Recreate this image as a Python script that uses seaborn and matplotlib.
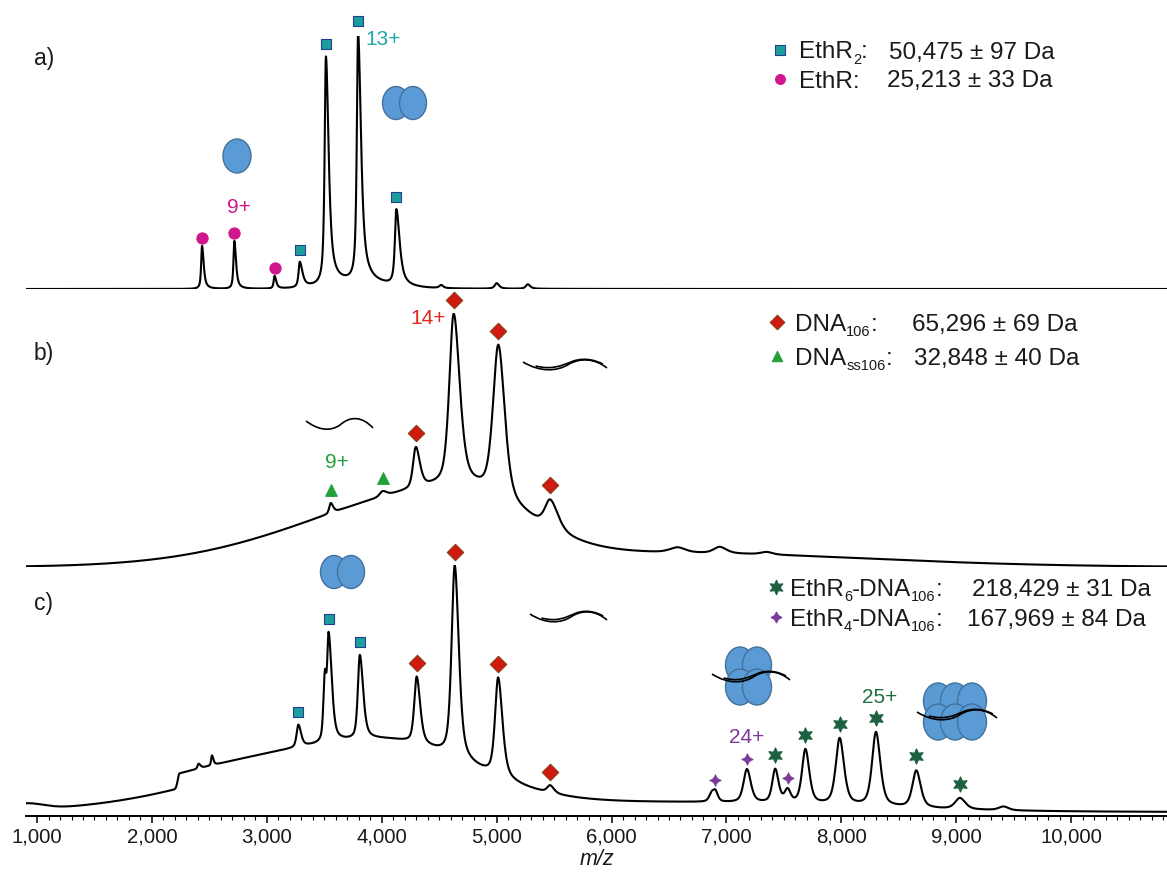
import numpy as np
import matplotlib
matplotlib.use("Agg")
import matplotlib.pyplot as plt
from matplotlib.patches import Ellipse, PathPatch
from matplotlib.path import Path
from matplotlib.ticker import FuncFormatter, MultipleLocator
import seaborn as sns

sns.set_theme(style="white")
plt.rcParams["font.family"] = ["Liberation Sans", "DejaVu Sans"]

# ---- peaks: centre m/z, height (% of panel max), left/right half widths
a_mz = [2436, 2717, 3067, 3286, 3514, 3794, 4127, 4518, 5000, 5271]
a_height = [17, 19, 5, 10, 90, 98, 30, 1.2, 2.2, 1.8]
a_wl = [9, 9, 9, 12, 13, 13, 15, 20, 20, 20]
a_wr = [17, 17, 17, 28, 28, 30, 34, 20, 25, 25]
# broad underlying humps: centre, height, sigma left, sigma right
a_bg = [(3750, 2.5, 250, 250)]

b_mz = [3555, 4007, 4296, 4626, 5015, 5467, 6574, 6940, 7350]
b_height = [4, 2, 16, 67, 60, 11, 2, 2.5, 1]
b_wl = [15, 30, 28, 45, 55, 55, 80, 60, 60]
b_wr = [25, 40, 42, 62, 65, 80, 80, 70, 60]
b_bg = [(4600, 29, 1200, 600), (6500, 5.5, 1700, 1700)]

c_mz = [2405, 2522, 3274, 3505, 3538, 3809, 4304, 4635, 5013, 5465,
        6870, 6904, 7178, 7424, 7532, 7687, 7985, 8301, 8652, 9032, 9412]
c_height = [2, 4, 9, 25, 42, 34, 27, 78, 40, 3,
            3, 4, 13.5, 13.5, 5, 22, 27, 30, 15, 4.5, 1.5]
c_wl = [10, 8, 18, 15, 15, 20, 25, 32, 32, 30,
        25, 25, 35, 30, 30, 35, 40, 40, 40, 50, 50]
c_wr = [20, 15, 28, 15, 32, 34, 36, 42, 44, 40,
        25, 25, 40, 35, 30, 40, 45, 45, 45, 55, 50]
c_bg = [(4000, 27, 1200, 750), (6500, 4, 2000, 1500),
        (2240, 6, 15, 800), (900, 2.5, 80, 150)]

# ---- assignments (marker m/z per species)
ethr2_a = [3286, 3514, 3794, 4127]
ethr_a = [2436, 2717, 3067]
dna_b = [4296, 4626, 5015, 5467]
dnass_b = [3555, 4007]
ethr2_c = [3274, 3538, 3809]
dna_c = [4304, 4635, 5013, 5465]
ethr6_c = [7424, 7687, 7985, 8301, 8652, 9032]
ethr4_c = [6904, 7178, 7532]

mz_lo, mz_hi = 904, 10834
W, H = 1167, 872


def spectrum(x, centres, heights, wl, wr, bg, eta):
    y = np.zeros_like(x, dtype=float)
    for c, h, s1, s2 in bg:
        s = np.where(x < c, s1, s2)
        y += h * np.exp(-0.5 * ((x - c) / s) ** 2)
    for c, h, l, r in zip(centres, heights, wl, wr):
        w = np.where(x < c, l, r)
        d = (x - c) / w
        y += h * (eta / (1 + d ** 2) + (1 - eta) * np.exp(-np.log(2) * d ** 2))
    return y


mz = np.arange(mz_lo, mz_hi, 2.0)
panels = {
    "a": dict(p=(a_mz, a_height, a_wl, a_wr, a_bg), eta=0.8, bot=289, top=36, y0=0),
    "b": dict(p=(b_mz, b_height, b_wl, b_wr, b_bg), eta=0.5, bot=567, top=313, y0=0),
    "c": dict(p=(c_mz, c_height, c_wl, c_wr, c_bg), eta=0.55, bot=816, top=565, y0=-1.62),
}

fig = plt.figure(figsize=(W / 100, H / 100), dpi=100)
axes = {}
for key, pan in panels.items():
    ax = fig.add_axes([26 / W, 1 - pan["bot"] / H, (W - 26) / W, (pan["bot"] - pan["top"]) / H])
    ax.patch.set_alpha(0)
    spec = spectrum(mz, *pan["p"], pan["eta"])
    sns.lineplot(x=mz, y=spec, ax=ax, color="black", linewidth=1.5, estimator=None)
    ax.set_xlim(mz_lo, mz_hi)
    ax.set_ylim(pan["y0"], 100)
    ax.set(xlabel="", ylabel="")
    ax.set_yticks([])
    for s in ["top", "left", "right"]:
        ax.spines[s].set_visible(False)
    if key != "c":
        ax.spines["bottom"].set_visible(False)
        ax.set_xticks([])
    axes[key] = ax


def top_of(key, xs, off_px):
    pan = panels[key]
    per_px = (100 - pan["y0"]) / (pan["bot"] - pan["top"])
    vals = spectrum(np.array(xs, dtype=float), *pan["p"], pan["eta"])
    return vals + off_px * per_px


def mark(key, xs, marker, size, face, edge, off_px, lw=0.8):
    sns.scatterplot(x=xs, y=top_of(key, xs, off_px), ax=axes[key], marker=marker, s=size,
                    color=face, edgecolor=edge, linewidth=lw, clip_on=False, zorder=5)


teal, navy = "#1a9e9e", "#263f8c"
magenta = "#d0168c"
red, brown = "#d01a10", "#8c3b16"
green = "#23a03c"
dkgreen = "#1c6040"
purple = "#7b3b9b"

mark("a", ethr2_a, "s", 55, teal, navy, 12)
mark("a", ethr_a, "o", 65, magenta, magenta, 8)
mark("b", dna_b, "D", 70, red, brown, 14)
mark("b", dnass_b, "^", 70, green, green, 13)
mark("c", ethr2_c, "s", 55, teal, navy, 13)
mark("c", dna_c, "D", 70, red, brown, 13)
mark("c", ethr6_c, (6, 1, 0), 120, dkgreen, dkgreen, 14)
mark("c", ethr4_c, (4, 1, 0), 75, purple, purple, 10, lw=0.3)

# charge state labels, offset from their marker in pixels
charge_labels = [("a", 3794, 15, "13+", "#20a8a8", 25, -22),
                 ("a", 2717, 8, "9+", magenta, 5, 25),
                 ("b", 4626, 14, "14+", "#e0251b", -26, -19),
                 ("b", 3555, 13, "9+", green, 6, 27),
                 ("c", 7178, 10, "24+", purple, 0, 21),
                 ("c", 8301, 14, "25+", "#1c7040", 4, 20)]
for key, x, off, txt, col, dx, dy in charge_labels:
    y = top_of(key, [x], off)[0]
    axes[key].annotate(txt, xy=(x, y), xytext=(dx, dy), textcoords="offset pixels",
                       ha="center", va="center", color=col, fontsize=15, annotation_clip=False)

ax_c = axes["c"]
ax_c.spines["bottom"].set_color("black")
ax_c.spines["bottom"].set_linewidth(1.4)
ax_c.xaxis.set_major_locator(MultipleLocator(1000))
ax_c.xaxis.set_minor_locator(MultipleLocator(100))
ax_c.xaxis.set_major_formatter(FuncFormatter(lambda v, p: f"{v:,.0f}"))
ax_c.tick_params(axis="x", which="major", direction="out", length=5, width=1.1,
                 labelsize=14.7, pad=3, bottom=True, color="black", labelcolor="#1a1a1a")
ax_c.tick_params(axis="x", which="minor", direction="out", length=3, width=0.8,
                 bottom=True, color="black")
ax_c.set_xlabel("m/z", fontsize=15.5, style="italic", labelpad=2, color="#1a1a1a")

# ---- overlay in pixel space for panel letters, legends and cartoons
ov = fig.add_axes([0, 0, 1, 1], zorder=10)
ov.set_xlim(0, W)
ov.set_ylim(H, 0)
ov.axis("off")
ov.patch.set_alpha(0)
renderer = fig.canvas.get_renderer()

for lab, y in [("a)", 58), ("b)", 353), ("c)", 603)]:
    ov.text(34, y, lab, fontsize=16.5, va="center", color="#1a1a1a")


def rich(x, y, parts, size=17.5, sub_size=10.5):
    # text with small subscripts, laid out piece by piece (1 data unit = 1 pixel)
    base = y + 8.5
    for s, sub in parts:
        t = ov.text(x, base + (5 if sub else 0), s, fontsize=sub_size if sub else size,
                    va="baseline", color="#1a1a1a")
        x += t.get_window_extent(renderer).width


legend_rows = [
    ("s", 45, teal, navy, 780, 50, [("EthR", 0), ("2", 1), (":", 0)], 799, "50,475 ± 97 Da", 889),
    ("o", 50, magenta, magenta, 780, 79, [("EthR:", 0)], 799, "25,213 ± 33 Da", 887),
    ("D", 55, red, brown, 777, 322, [("DNA", 0), ("106", 1), (":", 0)], 795, "65,296 ± 69 Da", 912),
    ("^", 55, green, green, 777, 356, [("DNA", 0), ("ss106", 1), (":", 0)], 795, "32,848 ± 40 Da", 914),
    ((6, 1, 0), 110, dkgreen, dkgreen, 776, 587,
     [("EthR", 0), ("6", 1), ("-DNA", 0), ("106", 1), (":", 0)], 790, "218,429 ± 31 Da", 972),
    ((4, 1, 0), 60, purple, purple, 776, 617,
     [("EthR", 0), ("4", 1), ("-DNA", 0), ("106", 1), (":", 0)], 790, "167,969 ± 84 Da", 967),
]
for m, s, fc, ec, mx, y, name, tx, val, vx in legend_rows:
    ov.scatter([mx], [y], marker=m, s=s, color=fc, edgecolor=ec, linewidth=0.8)
    rich(tx, y, name)
    rich(vx, y, [(val, 0)])

blue, blue_edge = "#5b9bd5", "#41719c"


def blobs(centres, w, h):
    for cx, cy in centres:
        ov.add_patch(Ellipse((cx, cy), w, h, facecolor=blue, edgecolor=blue_edge, lw=1.0))


blobs([(237, 156)], 28, 34)
blobs([(396, 103), (413, 103)], 27, 33)
blobs([(334, 572), (351, 572)], 27, 33)
blobs([(740, 665), (757, 665), (740, 687), (757, 687)], 29, 36)
blobs([(938, 701), (955, 701), (972, 701), (938, 722), (955, 722), (972, 722)], 29, 36)


def curve(pts, lw=1.2):
    codes = [Path.MOVETO] + [Path.CURVE4] * (len(pts) - 1)
    ov.add_patch(PathPatch(Path(pts, codes), facecolor="none", edgecolor="black", lw=lw,
                           zorder=12))


def duplex(x0, y0, w):
    s1 = [(0, -2), (0.2, 8), (0.4, 8), (0.55, 0), (0.68, -6), (0.85, -6), (1.0, 4)]
    s2 = [(0.15, 2), (0.35, 6), (0.45, 2), (0.6, -3), (0.75, -7), (0.88, -3), (0.95, 0)]
    for s in (s1, s2):
        curve([(x0 + u * w, y0 + v) for u, v in s])


curve([(306, 421), (318, 430), (330, 432), (340, 425), (350, 416), (362, 416), (373, 428)])
duplex(523, 364, 84)
duplex(530, 616, 77)
duplex(712, 676, 78)
duplex(917, 714, 80)

fig.savefig("out.png", dpi=100)
